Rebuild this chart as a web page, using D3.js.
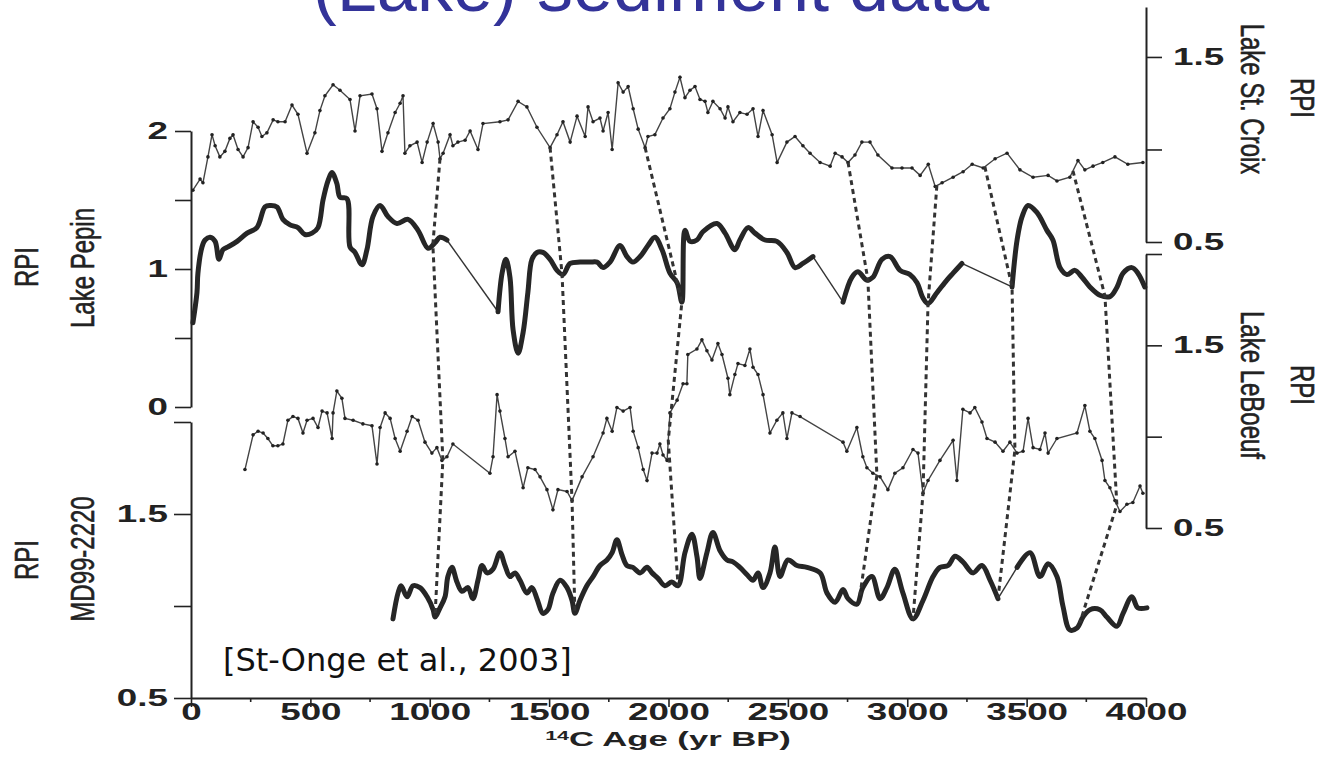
<!DOCTYPE html>
<html>
<head>
<meta charset="utf-8">
<script src="https://cdn.jsdelivr.net/npm/d3@7"></script>
<style>
  body { margin: 0; background: #fff; }
  svg { display: block; }
</style>
</head>
<body>
<svg id="chart"></svg>
<script>
// RPI records, [age (14C yr BP), RPI]
const stCroix = [[8,0.78],[38,0.84],[50,0.82],[71,0.96],[88,1.08],[101,1.02],[121,0.96],[142,0.99],[163,1.06],[176,1.08],[197,1.00],[218,0.96],[239,1.01],[260,1.15],[281,1.12],[297,1.07],[318,1.09],[344,1.16],[364,1.15],[394,1.15],[423,1.24],[448,1.19],[486,0.98],[519,1.09],[540,1.21],[561,1.29],[595,1.35],[624,1.32],[666,1.27],[687,1.10],[708,1.29],[758,1.30],[779,1.22],[800,0.99],[825,1.09],[855,1.20],[876,1.25],[888,1.29],[896,0.98],[917,1.02],[947,1.04],[968,0.93],[989,1.04],[1014,1.14],[1035,1.04],[1043,0.95],[1056,0.98],[1085,1.08],[1097,1.02],[1118,1.04],[1148,1.05],[1169,1.10],[1202,1.00],[1223,1.14],[1294,1.15],[1328,1.16],[1370,1.26],[1407,1.23],[1449,1.12],[1504,1.01],[1533,1.08],[1558,1.15],[1588,1.04],[1617,1.18],[1651,1.07],[1663,1.23],[1684,1.15],[1713,1.17],[1726,1.10],[1747,1.20],[1764,1.00],[1789,1.36],[1810,1.31],[1831,1.34],[1852,1.22],[1873,1.11],[1902,1.01],[1914,1.07],[1943,1.08],[1977,1.17],[2006,1.22],[2027,1.31],[2048,1.39],[2069,1.28],[2090,1.32],[2111,1.34],[2132,1.27],[2153,1.26],[2165,1.20],[2186,1.26],[2216,1.22],[2237,1.17],[2249,1.23],[2270,1.15],[2299,1.20],[2329,1.19],[2354,1.22],[2375,1.07],[2396,1.21],[2434,1.08],[2455,0.93],[2496,1.04],[2530,1.07],[2563,1.02],[2593,0.98],[2635,0.93],[2677,0.91],[2698,0.98],[2727,0.96],[2752,0.93],[2781,0.97],[2810,1.04],[2844,1.04],[2877,0.97],[2936,0.90],[2978,0.90],[3020,0.90],[3054,0.86],[3088,0.92],[3117,0.80],[3146,0.82],[3192,0.85],[3234,0.88],[3272,0.92],[3318,0.90],[3368,0.95],[3418,0.98],[3472,0.89],[3527,0.85],[3590,0.86],[3627,0.83],[3681,0.85],[3715,0.94],[3744,0.89],[3778,0.91],[3819,0.93],[3870,0.96],[3924,0.92],[3987,0.93]];

const lakePepin = [[8,0.61],[25,0.83],[29,0.97],[46,1.16],[59,1.21],[80,1.23],[101,1.20],[117,1.07],[134,1.14],[155,1.16],[193,1.20],[235,1.26],[276,1.30],[310,1.45],[331,1.46],[360,1.45],[385,1.36],[415,1.32],[448,1.30],[477,1.25],[507,1.26],[532,1.30],[553,1.50],[574,1.64],[590,1.70],[611,1.62],[624,1.52],[653,1.51],[666,1.16],[687,1.12],[716,1.03],[737,1.14],[762,1.38],[792,1.46],[825,1.38],[863,1.33],[909,1.36],[951,1.28],[993,1.15],[1022,1.19],[1043,1.23],[1072,1.21],[1286,0.69],[1303,0.97],[1319,1.07],[1336,0.94],[1349,0.56],[1370,0.39],[1391,0.54],[1411,0.83],[1428,1.07],[1449,1.12],[1474,1.12],[1504,1.07],[1533,0.99],[1558,0.96],[1588,1.04],[1630,1.05],[1671,1.05],[1701,1.05],[1726,1.01],[1755,1.05],[1797,1.17],[1826,1.09],[1851,1.05],[1881,1.09],[1914,1.17],[1943,1.23],[1973,1.14],[2006,0.97],[2036,0.90],[2056,0.76],[2069,1.28],[2090,1.20],[2119,1.21],[2144,1.27],[2203,1.33],[2237,1.26],[2278,1.14],[2299,1.21],[2333,1.30],[2362,1.26],[2404,1.21],[2454,1.20],[2496,1.12],[2530,1.01],[2563,1.04],[2605,1.09],[2731,0.76],[2768,0.94],[2793,0.98],[2831,0.92],[2856,0.94],[2894,1.07],[2928,1.09],[2970,0.99],[3011,0.96],[3041,0.90],[3066,0.79],[3087,0.75],[3125,0.83],[3166,0.92],[3192,0.97],[3229,1.04],[3439,0.87],[3460,1.21],[3481,1.38],[3506,1.46],[3543,1.41],[3585,1.28],[3610,1.21],[3640,1.01],[3669,0.96],[3702,0.99],[3732,0.94],[3765,0.87],[3807,0.81],[3849,0.80],[3879,0.87],[3904,0.97],[3941,1.01],[3966,0.97],[3995,0.87]];

const leBoeuf = [[226,0.82],[260,1.01],[281,1.03],[302,1.02],[322,0.99],[343,0.95],[364,0.95],[385,0.96],[406,1.09],[427,1.11],[448,1.10],[469,1.02],[486,1.09],[511,1.10],[532,1.05],[549,1.14],[570,1.13],[591,0.99],[595,1.13],[611,1.25],[632,1.21],[645,1.10],[679,1.09],[720,1.07],[758,1.06],[779,0.85],[792,1.05],[813,1.13],[834,1.10],[855,0.99],[876,0.92],[905,1.03],[926,1.11],[951,1.09],[980,0.97],[1009,0.91],[1030,0.94],[1051,0.87],[1072,0.89],[1097,0.96],[1252,0.80],[1265,0.89],[1282,1.23],[1294,1.14],[1315,0.99],[1328,0.89],[1357,0.92],[1391,0.72],[1411,0.83],[1441,0.82],[1462,0.78],[1491,0.71],[1516,0.60],[1537,0.71],[1575,0.70],[1596,0.65],[1638,0.78],[1684,0.89],[1726,1.02],[1742,1.10],[1764,1.03],[1784,1.16],[1810,1.14],[1839,1.16],[1852,1.03],[1873,0.94],[1894,0.82],[1910,0.76],[1931,0.91],[1952,0.91],[1964,0.96],[1977,0.90],[1994,0.87],[2006,1.13],[2036,1.20],[2061,1.29],[2077,1.29],[2081,1.45],[2119,1.48],[2140,1.53],[2161,1.47],[2182,1.42],[2207,1.51],[2224,1.45],[2249,1.32],[2257,1.23],[2278,1.34],[2291,1.40],[2320,1.39],[2341,1.48],[2354,1.38],[2375,1.34],[2396,1.23],[2425,1.02],[2454,1.09],[2479,1.13],[2496,0.99],[2517,1.13],[2551,1.11],[2731,0.97],[2747,0.92],[2789,1.05],[2814,0.89],[2831,0.83],[2856,0.80],[2886,0.78],[2919,0.71],[2948,0.80],[2982,0.83],[3024,0.93],[3045,0.91],[3066,0.69],[3087,0.76],[3137,0.87],[3192,0.98],[3208,0.76],[3233,1.15],[3263,1.13],[3283,1.16],[3313,1.08],[3334,0.99],[3368,0.97],[3401,0.92],[3430,0.97],[3460,0.91],[3485,0.92],[3506,1.10],[3527,0.94],[3556,0.93],[3577,1.02],[3590,0.91],[3627,0.99],[3711,1.02],[3744,1.17],[3765,1.03],[3786,0.99],[3816,0.87],[3828,0.76],[3849,0.72],[3870,0.65],[3891,0.59],[3920,0.63],[3945,0.64],[3975,0.73],[3987,0.69]];

const md99 = [[846,0.93],[867,1.07],[880,1.11],[905,1.05],[930,1.11],[959,1.10],[989,1.05],[1014,0.98],[1022,0.94],[1043,0.99],[1064,1.05],[1076,1.16],[1093,1.21],[1114,1.13],[1135,1.08],[1160,1.10],[1181,1.04],[1202,1.14],[1219,1.22],[1240,1.18],[1265,1.20],[1294,1.29],[1315,1.22],[1336,1.16],[1357,1.18],[1378,1.14],[1407,1.07],[1428,1.10],[1449,1.04],[1474,0.96],[1495,0.98],[1516,1.07],[1546,1.14],[1575,1.10],[1596,1.03],[1608,0.96],[1629,1.03],[1658,1.11],[1684,1.16],[1713,1.22],[1742,1.25],[1764,1.29],[1784,1.36],[1805,1.28],[1826,1.22],[1851,1.21],[1881,1.18],[1910,1.21],[1931,1.18],[1956,1.15],[1985,1.11],[2014,1.13],[2040,1.11],[2069,1.29],[2098,1.39],[2119,1.27],[2132,1.15],[2161,1.29],[2186,1.40],[2216,1.30],[2245,1.25],[2270,1.24],[2299,1.21],[2329,1.17],[2354,1.14],[2375,1.18],[2396,1.10],[2425,1.18],[2446,1.32],[2467,1.16],[2500,1.25],[2538,1.22],[2580,1.21],[2635,1.18],[2664,1.07],[2698,1.02],[2731,1.09],[2752,1.04],[2789,1.01],[2814,1.10],[2852,1.16],[2886,1.04],[2915,1.10],[2948,1.20],[2982,1.07],[3024,0.93],[3066,1.03],[3108,1.16],[3137,1.21],[3171,1.22],[3200,1.27],[3233,1.24],[3275,1.18],[3313,1.22],[3347,1.14],[3380,1.04],[3460,1.21],[3514,1.29],[3556,1.16],[3590,1.23],[3627,1.16],[3652,1.00],[3681,0.87],[3711,0.88],[3736,0.94],[3765,0.98],[3807,0.98],[3836,0.94],[3878,0.89],[3904,0.96],[3941,1.05],[3966,0.99],[4004,0.99]];

// correlation tie points: ages on St. Croix, Pepin, LeBoeuf, MD99-2220
const tieAges = [
  [1043, 1013, 1055, 1022],
  [1504, 1554, 1596, 1608],
  [1902, 2056, 1999, 2040],
  [2752, 2835, 2873, 2802],
  [3124, 3087, 3066, 3024],
  [3325, 3439, 3451, 3380],
  [3694, 3828, 3878, 3723]
];

const xTicks = [0, 500, 1000, 1500, 2000, 2500, 3000, 3500, 4000];
const xMinorTicks = [250, 750, 1250, 1750, 2250, 2750, 3250, 3750];
const pepinTicks = [0, 0.5, 1, 1.5, 2];
const pepinLabels = [0, 1, 2];
const mdTicks = [0.5, 1, 1.5, 2];
const mdLabels = [0.5, 1.5];
const croixTicks = [0.5, 1, 1.5];
const croixLabels = [0.5, 1.5];
const boeufTicks = [0.5, 1, 1.5, 2];
const boeufLabels = [0.5, 1.5];

const width = 1320;
const height = 763;
const axisFont = "'Liberation Sans', Arial, Helvetica, sans-serif";
const stretch = 1.6; // scanned figure text is wide

const svg = d3.select("#chart")
  .attr("width", width)
  .attr("height", height);

svg.append("rect").attr("width", width).attr("height", height).attr("fill", "#fff");

// scales
const x = d3.scaleLinear().domain([0, 4000]).range([191, 1146]);
const yCroix = d3.scaleLinear().domain([0.5, 1.77]).range([242, 7]);
const yPepin = d3.scaleLinear().domain([0, 2]).range([407, 131]);
const yBoeuf = d3.scaleLinear().domain([0.5, 2]).range([528, 254]);
const yMd = d3.scaleLinear().domain([0.5, 2]).range([698, 422]);

// title (cut off at the top of the slide)
svg.append("text")
  .attr("x", 651)
  .attr("y", 11)
  .attr("text-anchor", "middle")
  .attr("font-family", axisFont)
  .attr("font-size", 72)
  .attr("fill", "#333399")
  .text("(Lake) sediment data");

function styleAxis(g, labels, side) {
  g.select(".domain").attr("stroke", "#222").attr("stroke-width", 2);
  g.selectAll(".tick line").attr("stroke", "#222").attr("stroke-width", 1.6);
  g.selectAll(".tick text")
    .attr("font-family", axisFont)
    .attr("font-size", 23)
    .attr("font-weight", "bold")
    .attr("fill", "#222")
    .text(d => labels.includes(d) ? d3.format("")(d) : "")
    .attr("transform", `scale(${stretch},1)`);
  if (side === "left") g.selectAll(".tick text").attr("x", -23 / stretch);
  if (side === "right") g.selectAll(".tick text").attr("x", 27 / stretch);
}

// left axes
svg.append("g")
  .attr("transform", `translate(${x(0)},0)`)
  .call(d3.axisLeft(yPepin).tickValues(pepinTicks).tickSize(16).tickSizeOuter(0))
  .call(g => styleAxis(g, pepinLabels, "left"));

svg.append("g")
  .attr("transform", `translate(${x(0)},0)`)
  .call(d3.axisLeft(yMd).tickValues(mdTicks).tickSize(17).tickSizeOuter(0))
  .call(g => styleAxis(g, mdLabels, "left"));

// right axes
svg.append("g")
  .attr("transform", `translate(${x(4000)},0)`)
  .call(d3.axisRight(yCroix).tickValues(croixTicks).tickSize(16).tickSizeOuter(0))
  .call(g => styleAxis(g, croixLabels, "right"));

svg.append("g")
  .attr("transform", `translate(${x(4000)},0)`)
  .call(d3.axisRight(yBoeuf).tickValues(boeufTicks).tickSize(16).tickSizeOuter(0))
  .call(g => styleAxis(g, boeufLabels, "right"));

// bottom axis
svg.append("g")
  .attr("transform", `translate(0,${yMd(0.5)})`)
  .call(d3.axisBottom(x).tickValues(xTicks).tickSize(9).tickSizeOuter(0).tickPadding(-3))
  .call(g => styleAxis(g, xTicks, "bottom"));

svg.append("g")
  .selectAll("line")
  .data(xMinorTicks)
  .join("line")
  .attr("x1", d => x(d)).attr("x2", d => x(d))
  .attr("y1", yMd(0.5)).attr("y2", yMd(0.5) + 4)
  .attr("stroke", "#222")
  .attr("stroke-width", 1.6);

// x axis title with superscript
const xTitle = svg.append("text")
  .attr("transform", "translate(668,746) scale(1.65,1)")
  .attr("text-anchor", "middle")
  .attr("font-family", axisFont)
  .attr("font-size", 21)
  .attr("font-weight", "bold")
  .attr("fill", "#222");
xTitle.append("tspan").attr("font-size", 13).attr("dy", -6).text("14");
xTitle.append("tspan").attr("dy", 6).text("C Age (yr BP)");

// rotated series labels
function sideLabel(cx, cy, angle, txt) {
  svg.append("text")
    .attr("transform", `translate(${cx},${cy}) scale(1.4,1) rotate(${angle})`)
    .attr("text-anchor", "middle")
    .attr("dominant-baseline", "central")
    .attr("font-family", axisFont)
    .attr("font-size", 24)
    .attr("fill", "#222")
    .attr("stroke", "#222")
    .attr("stroke-width", 0.4)
    .text(txt);
}
sideLabel(26, 267, -90, "RPI");
sideLabel(82, 268, -90, "Lake Pepin");
sideLabel(26, 560, -90, "RPI");
sideLabel(82, 559, -90, "MD99-2220");
sideLabel(1303, 98, 90, "RPI");
sideLabel(1253, 99, 90, "Lake St. Croix");
sideLabel(1303, 385, 90, "RPI");
sideLabel(1253, 385, 90, "Lake LeBoeuf");

// thin records with small markers
function drawThin(data, y) {
  svg.append("path")
    .datum(data)
    .attr("d", d3.line().x(d => x(d[0])).y(d => y(d[1])))
    .attr("fill", "none")
    .attr("stroke", "#444")
    .attr("stroke-width", 1.4);
  svg.append("g")
    .selectAll("circle")
    .data(data)
    .join("circle")
    .attr("cx", d => x(d[0]))
    .attr("cy", d => y(d[1]))
    .attr("r", 1.8)
    .attr("fill", "#222");
}

// thick records, data gaps joined by a thin straight line
function drawThick(data, y) {
  const runs = [];
  let run = [data[0]];
  for (let i = 1; i < data.length; i++) {
    if (data[i][0] - data[i - 1][0] > 70) {
      svg.append("line")
        .attr("x1", x(data[i - 1][0])).attr("y1", y(data[i - 1][1]))
        .attr("x2", x(data[i][0])).attr("y2", y(data[i][1]))
        .attr("stroke", "#333")
        .attr("stroke-width", 1.4);
      runs.push(run);
      run = [data[i]];
    } else {
      run.push(data[i]);
    }
  }
  runs.push(run);
  runs.forEach(r => {
    svg.append("path")
      .datum(r)
      .attr("d", d3.line().curve(d3.curveCatmullRom.alpha(0.5)).x(d => x(d[0])).y(d => y(d[1])))
      .attr("fill", "none")
      .attr("stroke", "#262626")
      .attr("stroke-width", 5)
      .attr("stroke-linejoin", "round")
      .attr("stroke-linecap", "round");
  });
}

drawThin(stCroix, yCroix);
drawThick(lakePepin, yPepin);
drawThin(leBoeuf, yBoeuf);
drawThick(md99, yMd);

// dashed tie lines
function valueAt(data, age) {
  const i = d3.bisector(d => d[0]).left(data, age);
  if (i <= 0) return data[0][1];
  if (i >= data.length) return data[data.length - 1][1];
  const a = data[i - 1], b = data[i];
  const t = (age - a[0]) / (b[0] - a[0]);
  return a[1] + t * (b[1] - a[1]);
}

const records = [[stCroix, yCroix], [lakePepin, yPepin], [leBoeuf, yBoeuf], [md99, yMd]];

tieAges.forEach(ages => {
  const pts = ages.map((a, k) => [x(a), records[k][1](valueAt(records[k][0], a))]);
  svg.append("path")
    .attr("d", d3.line()(pts))
    .attr("fill", "none")
    .attr("stroke", "#333")
    .attr("stroke-width", 3)
    .attr("stroke-dasharray", "5,4");
});

// citation
svg.append("text")
  .attr("x", 223)
  .attr("y", 671)
  .attr("font-family", "'DejaVu Sans', Verdana, sans-serif")
  .attr("font-size", 32)
  .attr("fill", "#111")
  .text("[St-Onge et al., 2003]");
</script>
</body>
</html>
